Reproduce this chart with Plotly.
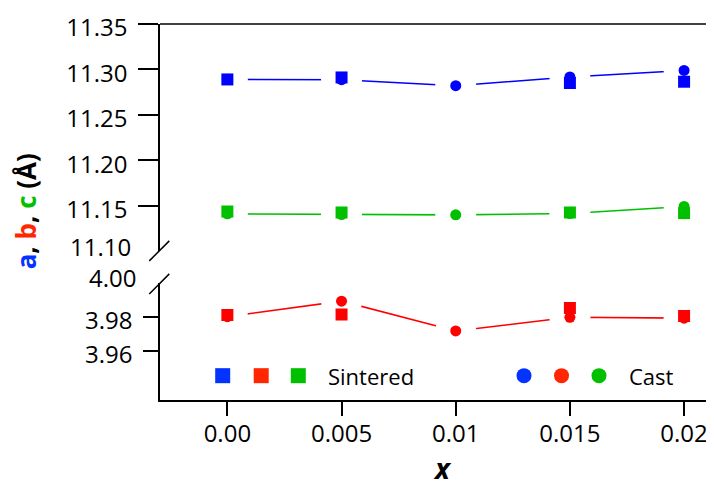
import plotly.graph_objects as go

# ---------------- data ----------------
x_vals = [0.0, 0.005, 0.01, 0.015, 0.02]
x_ticktext = ["0.00", "0.005", "0.01", "0.015", "0.02"]

a_sintered = [11.2889, 11.2911, None, 11.2850, 11.2864]
a_cast = [11.2890, 11.2886, 11.2820, 11.2916, 11.2988]
b_sintered = [3.9810, 3.9812, None, 3.9851, 3.9804]
b_cast = [3.9800, 3.9891, 3.9716, 3.9796, 3.9791]
c_sintered = [11.1434, 11.1423, None, 11.1423, 11.1416]
c_cast = [11.1408, 11.1401, 11.1397, 11.1412, 11.1489]

upper_ticks = [11.15, 11.20, 11.25, 11.30, 11.35]
lower_ticks = [3.96, 3.98]

# ---------------- styling ----------------
BLUE, RED, GREEN = "#0000FF", "#FF0000", "#00C000"
LBLUE, LRED, LGREEN = "#0433FF", "#FF2600", "#00C000"
FONT = "Open Sans"

OFF = 8  # page body margin of the html page
W, H = 714 - OFF, 486 - OFF
L, T = 160 - OFF, 24.3 - OFF
R = W - (714 - OFF)
B = H - (400 - OFF)
PW, PH = W - L - R, H - T - B


def px(xw):  # window pixel x -> paper
    return (xw - 160) / PW


def py(yw):  # window pixel y -> paper
    return (400 - yw) / PH


upper_dom = [py(251.0), 1.0]
lower_dom = [0.0, py(282.7)]

fig = go.Figure()

series = [
    (a_cast, a_sintered, BLUE, "x2", "y2"),
    (c_cast, c_sintered, GREEN, "x2", "y2"),
    (b_cast, b_sintered, RED, "x", "y"),
]

for cast, sint, col, xa, ya in series:
    fig.add_trace(go.Scatter(x=x_vals, y=cast, mode="lines", line=dict(color=col, width=1.6),
                             xaxis=xa, yaxis=ya, showlegend=False, hoverinfo="skip"))
for cast, sint, col, xa, ya in series:
    fig.add_trace(go.Scatter(x=x_vals, y=cast, mode="markers",
                             marker=dict(symbol="circle", size=41, color="white", line=dict(width=0)),
                             xaxis=xa, yaxis=ya, showlegend=False, hoverinfo="skip"))
for cast, sint, col, xa, ya in series:
    fig.add_trace(go.Scatter(x=x_vals, y=cast, mode="markers",
                             marker=dict(symbol="circle", size=11, color=col, line=dict(width=0)),
                             xaxis=xa, yaxis=ya, showlegend=False))
for cast, sint, col, xa, ya in series:
    fig.add_trace(go.Scatter(x=x_vals, y=sint, mode="markers",
                             marker=dict(symbol="square", size=12, color=col, line=dict(width=0)),
                             xaxis=xa, yaxis=ya, showlegend=False))

tickfont = dict(family=FONT, size=24, color="black")

fig.update_layout(
    width=W, height=H, autosize=False,
    margin=dict(l=L, r=R, t=T, b=B, pad=0),
    paper_bgcolor="white", plot_bgcolor="white",
    showlegend=False,
    xaxis=dict(domain=[0, 1], anchor="y", range=[-0.00295, 0.02131],
               tickmode="array", tickvals=x_vals, ticktext=x_ticktext,
               ticks="outside", ticklen=14, tickwidth=1.5, tickcolor="black",
               showline=True, linewidth=1.5, linecolor="black",
               showgrid=False, zeroline=False, tickfont=tickfont,
               ticklabelstandoff=-3, ticklabeloverflow="allow"),
    xaxis2=dict(matches="x", anchor="y2", visible=False, showgrid=False, zeroline=False),
    yaxis=dict(domain=lower_dom, anchor="x", range=[3.931, 4.00],
               tickmode="array", tickvals=lower_ticks, ticktext=[f"{v:.2f}" for v in lower_ticks],
               ticks="outside", ticklen=15, tickwidth=1.5, tickcolor="black",
               showline=True, linewidth=1.5, linecolor="black",
               showgrid=False, zeroline=False, tickfont=tickfont,
               ticklabelstandoff=6, ticklabelshift=4, ticklabeloverflow="allow"),
    yaxis2=dict(domain=upper_dom, anchor="x2", range=[11.10, 11.35],
                tickmode="array", tickvals=upper_ticks, ticktext=[f"{v:.2f}" for v in upper_ticks],
                ticks="outside", ticklen=20, tickwidth=1.5, tickcolor="black",
                showline=True, linewidth=1.5, linecolor="black",
                showgrid=False, zeroline=False, tickfont=tickfont,
                ticklabelstandoff=6, ticklabelshift=4, ticklabeloverflow="allow"),
)

shapes = []
shapes.append(dict(type="line", xref="paper", yref="paper", x0=0, x1=1, y0=1, y1=1,
                   line=dict(color="black", width=1.5)))
for y_lo, y_hi in [(261, 241), (294, 274)]:
    shapes.append(dict(type="line", xref="paper", yref="paper",
                       x0=px(149.3), y0=py(y_lo), x1=px(169.3), y1=py(y_hi),
                       line=dict(color="black", width=1.5)))

leg_y = 375.7
half = 7.5
for cx, col in [(222.7, LBLUE), (261.2, LRED), (298.3, LGREEN)]:
    shapes.append(dict(type="rect", xref="paper", yref="paper",
                       x0=px(cx - half), x1=px(cx + half), y0=py(leg_y + half), y1=py(leg_y - half),
                       fillcolor=col, line=dict(width=0)))
for cx, col in [(524.0, LBLUE), (561.5, LRED), (599.0, LGREEN)]:
    shapes.append(dict(type="circle", xref="paper", yref="paper",
                       x0=px(cx - half), x1=px(cx + half), y0=py(leg_y + half), y1=py(leg_y - half),
                       fillcolor=col, line=dict(width=0)))
fig.update_layout(shapes=shapes)

annotations = [
    dict(text="Sintered", xref="paper", yref="paper", x=px(326), y=py(leg_y),
         xanchor="left", yanchor="middle", showarrow=False,
         font=dict(family=FONT, size=22, color="black")),
    dict(text="Cast", xref="paper", yref="paper", x=px(627), y=py(leg_y),
         xanchor="left", yanchor="middle", showarrow=False,
         font=dict(family=FONT, size=22, color="black")),
    dict(text="11.10", xref="paper", yref="paper", x=px(133), y=py(247),
         xanchor="right", yanchor="middle", showarrow=False, font=tickfont),
    dict(text="4.00", xref="paper", yref="paper", x=px(138), y=py(278),
         xanchor="right", yanchor="middle", showarrow=False, font=tickfont),
    dict(text="<b><span style='color:#0433FF'>a</span>, <span style='color:#FF2600'>b</span>, "
              "<span style='color:#00C000'>c</span> (Å)</b>",
         xref="paper", yref="paper", x=px(26), y=py(211.5), textangle=-90,
         xanchor="center", yanchor="middle", showarrow=False,
         font=dict(family=FONT, size=26, color="black")),
    dict(text="<b><i>x</i></b>", xref="paper", yref="paper", x=px(442), y=py(468),
         xanchor="center", yanchor="middle", showarrow=False,
         font=dict(family=FONT, size=28, color="black")),
]
fig.update_layout(annotations=annotations)

fig.write_html("out.html")
